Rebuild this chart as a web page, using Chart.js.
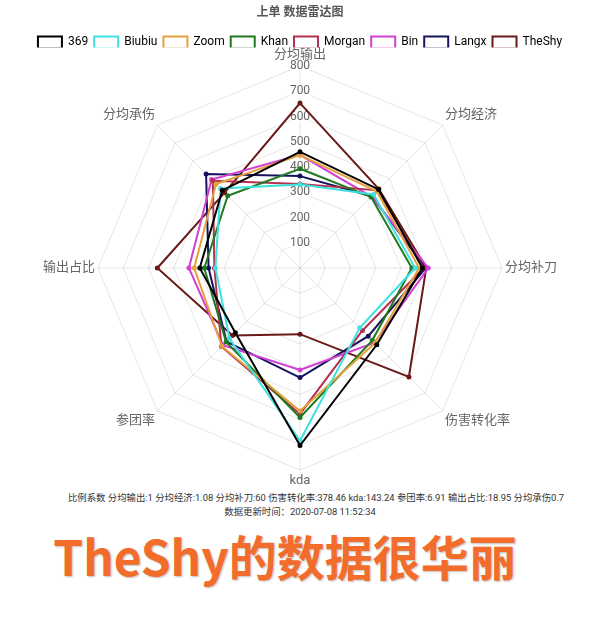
<!DOCTYPE html>
<html>
<head>
<meta charset="utf-8">
<script src="https://cdn.jsdelivr.net/npm/chart.js@4"></script>
<style>
	body { margin: 0; background: #fff; font-family: Roboto, 'Noto Sans CJK SC', sans-serif; }
	#wrap { position: relative; width: 600px; height: 636px; }
	#chart { position: absolute; left: 0; top: 0; }
	.note { position: absolute; left: 0; width: 600px; text-align: center; font-size: 9.4px; color: #333; }
	#big { position: absolute; left: 0; width: 570px; top: 520px; text-align: center; font-size: 48px; font-weight: bold; color: #f26c2c; text-shadow: 1px 1px 2px rgba(0,0,0,0.25); font-family: 'Noto Sans CJK SC', Roboto, sans-serif; }
</style>
</head>
<body>
<div id="wrap">
	<canvas id="chart" width="600" height="490"></canvas>
	<div class="note" style="top:490px; left:16px; width:600px">比例系数 分均输出:1 分均经济:1.08 分均补刀:60 伤害转化率:378.46 kda:143.24 参团率:6.91 输出占比:18.95 分均承伤0.7</div>
	<div class="note" style="top:504px">数据更新时间：2020-07-08 11:52:34</div>
	<div id="big">TheShy的数据很华丽</div>
</div>
<script>
const axisLabels = ['分均输出', '分均经济', '分均补刀', '伤害转化率', 'kda', '参团率', '输出占比', '分均承伤'];
const playerNames = ['369', 'Biubiu', 'Zoom', 'Khan', 'Morgan', 'Bin', 'Langx', 'TheShy'];
const playerColors = ['#000000', '#3fe0e0', '#e3a03c', '#1f7a1f', '#b3304f', '#d23fd2', '#14145e', '#6a1818'];

const values369 = [460, 440, 485, 430, 703, 362, 397, 435];
const valuesBiubiu = [331, 412, 456, 335, 684, 395, 335, 445];
const valuesZoom = [447, 430, 472, 420, 566, 438, 419, 470];
const valuesKhan = [393, 398, 443, 405, 592, 414, 379, 405];
const valuesMorgan = [333, 435, 490, 350, 578, 440, 339, 488];
const valuesBin = [448, 400, 508, 418, 404, 432, 440, 495];
const valuesLangx = [364, 402, 498, 382, 434, 412, 362, 526];
const valuesTheShy = [653, 442, 500, 610, 262, 378, 565, 422];

const scaleTicks = [0, 100, 200, 300, 400, 500, 600, 700, 800];

const seriesValues = [values369, valuesBiubiu, valuesZoom, valuesKhan, valuesMorgan, valuesBin, valuesLangx, valuesTheShy];

const fontFamily = "Roboto, 'Noto Sans CJK SC', sans-serif";

const datasets = playerNames.map((name, index) => ({
	label: name,
	data: seriesValues[index],
	borderColor: playerColors[index],
	backgroundColor: 'rgba(255,255,255,0)',
	pointBackgroundColor: playerColors[index],
	pointBorderColor: playerColors[index],
	pointRadius: 1.5,
	borderWidth: 2,
	fill: false
}));

new Chart(document.getElementById('chart').getContext('2d'), {
	type: 'radar',
	data: {
		labels: axisLabels,
		datasets
	},
	options: {
		responsive: false,
		animation: false,
		layout: { padding: { top: 0, bottom: 0 } },
		plugins: {
			title: {
				display: true,
				text: '上单 数据雷达图',
				color: '#555',
				font: { family: fontFamily, size: 12, weight: 'bold' },
				padding: { top: 6, bottom: 10 }
			},
			legend: {
				maxHeight: 17,
				labels: {
					color: '#666',
					boxWidth: 24,
					boxHeight: 12,
					font: { family: fontFamily, size: 12 },
					padding: 6,
					generateLabels: (chart) => chart.data.datasets.map((ds, i) => ({
						text: ds.label,
						fillStyle: '#fff',
						strokeStyle: ds.borderColor,
						lineWidth: 2,
						datasetIndex: i
					}))
				}
			},
			tooltip: { enabled: false }
		},
		scales: {
			r: {
				min: scaleTicks[0],
				max: scaleTicks[scaleTicks.length - 1],
				ticks: {
					stepSize: 100,
					color: '#666',
					font: { family: fontFamily, size: 12 },
					backdropPadding: 0,
					backdropColor: 'rgba(255,255,255,0.75)'
				},
				grid: { color: 'rgba(0,0,0,0.1)' },
				angleLines: { color: 'rgba(0,0,0,0.1)' },
				pointLabels: {
					color: '#666',
					padding: -3,
					font: { family: fontFamily, size: 13 }
				}
			}
		}
	}
});
</script>
</body>
</html>
